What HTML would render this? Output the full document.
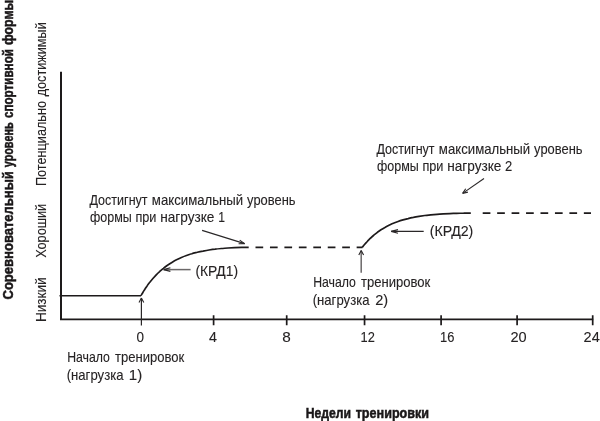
<!DOCTYPE html>
<html lang="ru">
<head>
<meta charset="utf-8">
<title>Недели тренировки</title>
<style>
html,body{margin:0;padding:0;background:#fff;}
svg{display:block;}
text{font-family:"Liberation Sans",sans-serif;font-size:14.3px;fill:#262324;stroke:#262324;stroke-width:0.1px;}
text.b{font-weight:bold;fill:#1a1718;stroke:#1a1718;stroke-width:0.5px;}
path{fill:none;stroke:#1d1a1b;}
.ax{stroke-width:1.7;}
.cv{stroke-width:1.7;}
.ds{stroke-width:1.7;stroke-dasharray:7.7 6.75;}
.ar{stroke-width:1.1;stroke:#2a2728;}
</style>
</head>
<body>
<svg width="600" height="421" viewBox="0 0 600 421">
<rect width="600" height="421" fill="#fff" stroke="none"/>
<path class="ax" style="stroke-width:2" d="M61,71.8 V319.3"/>
<path class="ax" style="stroke-width:1.7" d="M60,319.3 H593.2"/>
<path class="ax" d="M213.60,315.2 V325.3 M286.70,315.2 V325.3 M364.55,315.2 V325.3 M441.10,315.2 V325.3 M517.10,315.2 V325.3 M592.70,315.2 V325.3"/>
<path class="ax" style="stroke-width:1.6" d="M59.5,295.7 H141"/>
<path class="cv" d="M141.0,295.6 C141.1,295.4 141.3,295.0 141.7,294.4 C142.0,293.9 142.5,293.0 143.0,292.2 C143.6,291.3 144.2,290.3 144.9,289.2 C145.6,288.2 146.3,287.0 147.1,285.9 C147.9,284.7 148.8,283.5 149.8,282.3 C150.7,281.1 151.7,279.9 152.7,278.7 C153.8,277.5 154.9,276.3 156.0,275.1 C157.1,273.9 158.3,272.7 159.6,271.6 C160.8,270.5 162.1,269.3 163.4,268.3 C164.7,267.2 166.1,266.2 167.5,265.2 C169.0,264.2 170.4,263.3 171.9,262.4 C173.4,261.5 174.9,260.6 176.5,259.8 C178.1,259.0 179.7,258.2 181.4,257.5 C183.0,256.8 184.7,256.1 186.5,255.5 C188.2,254.9 190.0,254.3 191.8,253.8 C193.6,253.2 195.4,252.8 197.3,252.3 C199.2,251.8 201.1,251.4 203.0,251.1 C205.0,250.7 207.0,250.3 209.0,250.0 C211.0,249.7 213.0,249.4 215.1,249.2 C217.2,248.9 219.3,248.7 221.4,248.5 C223.6,248.3 225.8,248.2 228.0,248.0 C230.2,247.9 232.4,247.8 234.7,247.7 C237.0,247.6 239.3,247.5 241.6,247.4 C243.9,247.4 247.5,247.3 248.7,247.3"/>
<path class="cv" d="M362.3,247.3 C362.4,247.2 362.6,246.9 363.0,246.4 C363.3,246.0 363.8,245.4 364.3,244.8 C364.9,244.1 365.5,243.4 366.2,242.6 C366.9,241.9 367.7,241.0 368.5,240.2 C369.3,239.3 370.2,238.5 371.1,237.6 C372.1,236.7 373.1,235.8 374.1,234.9 C375.2,234.1 376.3,233.2 377.4,232.3 C378.6,231.5 379.8,230.6 381.0,229.8 C382.3,229.0 383.6,228.2 384.9,227.5 C386.2,226.7 387.6,226.0 389.0,225.3 C390.5,224.6 391.9,223.9 393.4,223.3 C394.9,222.7 396.5,222.1 398.1,221.5 C399.7,220.9 401.3,220.4 403.0,219.9 C404.7,219.4 406.4,219.0 408.1,218.6 C409.8,218.1 411.6,217.7 413.4,217.4 C415.3,217.0 417.1,216.7 419.0,216.4 C420.9,216.1 422.8,215.8 424.8,215.5 C426.8,215.3 428.7,215.1 430.8,214.9 C432.8,214.7 434.9,214.5 437.0,214.3 C439.1,214.1 441.2,214.0 443.3,213.9 C445.5,213.8 447.7,213.7 449.9,213.6 C452.2,213.5 454.4,213.4 456.7,213.3 C459.0,213.3 461.3,213.2 463.7,213.2 C466.0,213.1 469.6,213.1 470.8,213.1"/>
<path class="ds" d="M255.5,247.3 H362.5"/>
<path class="ds" d="M482.7,213.1 H591"/>
<path class="ar" style="stroke-width:1.2;" d="M141.4,325.4 L141.4,298.0"/><path class="ar" d="M143.8,302.6 L141.4,298.0 M139.0,302.6 L141.4,298.0"/>
<path class="ar" style="stroke-width:1.5;stroke:#6b6869" d="M361.2,272.8 L361.2,250.4"/><path class="ar" d="M363.6,255.0 L361.2,250.4 M358.8,255.0 L361.2,250.4"/>
<path class="ar" style="stroke-width:1.1;" d="M202.1,230.4 L244.6,243.6"/><path class="ar" d="M238.6,243.7 L244.6,243.6 M239.7,240.1 L244.6,243.6"/>
<path class="ar" style="stroke-width:1.1;" d="M484.0,178.5 L462.6,193.4"/><path class="ar" d="M465.7,188.8 L462.6,193.4 M467.9,192.1 L462.6,193.4"/>
<path class="ar" style="stroke-width:1.5;stroke:#6b6869" d="M190.6,269.6 L163.6,269.6"/><path class="ar" d="M170.4,267.8 L163.6,269.6 M170.4,271.4 L163.6,269.6"/>
<path class="ar" style="stroke-width:1.1;" d="M423.7,231.4 L391.2,231.4"/><path class="ar" d="M398.0,229.6 L391.2,231.4 M398.0,233.2 L391.2,231.4"/>
<text x="376.49" y="153.60" textLength="58.08" lengthAdjust="spacingAndGlyphs">Достигнут</text>
<text x="438.86" y="153.60" textLength="91.35" lengthAdjust="spacingAndGlyphs">максимальный</text>
<text x="534.08" y="153.60" textLength="48.41" lengthAdjust="spacingAndGlyphs">уровень</text>
<text x="376.94" y="170.50" textLength="41.78" lengthAdjust="spacingAndGlyphs">формы</text>
<text x="422.39" y="170.50" textLength="21.06" lengthAdjust="spacingAndGlyphs">при</text>
<text x="447.13" y="170.50" textLength="54.28" lengthAdjust="spacingAndGlyphs">нагрузке</text>
<text x="505.01" y="170.50" textLength="7.22" lengthAdjust="spacingAndGlyphs">2</text>
<text x="89.49" y="204.60" textLength="58.08" lengthAdjust="spacingAndGlyphs">Достигнут</text>
<text x="151.86" y="204.60" textLength="91.35" lengthAdjust="spacingAndGlyphs">максимальный</text>
<text x="247.08" y="204.60" textLength="48.41" lengthAdjust="spacingAndGlyphs">уровень</text>
<text x="89.94" y="221.50" textLength="41.78" lengthAdjust="spacingAndGlyphs">формы</text>
<text x="135.39" y="221.50" textLength="21.06" lengthAdjust="spacingAndGlyphs">при</text>
<text x="160.13" y="221.50" textLength="54.28" lengthAdjust="spacingAndGlyphs">нагрузке</text>
<text x="218.33" y="221.50" textLength="6.76" lengthAdjust="spacingAndGlyphs">1</text>
<text x="313.21" y="286.90" textLength="42.75" lengthAdjust="spacingAndGlyphs">Начало</text>
<text x="360.97" y="286.90" textLength="69.27" lengthAdjust="spacingAndGlyphs">тренировок</text>
<text x="312.68" y="305.40" textLength="56.86" lengthAdjust="spacingAndGlyphs">(нагрузка</text>
<text x="375.22" y="305.40" textLength="12.94" lengthAdjust="spacingAndGlyphs">2)</text>
<text x="67.21" y="361.90" textLength="42.75" lengthAdjust="spacingAndGlyphs">Начало</text>
<text x="114.97" y="361.90" textLength="69.27" lengthAdjust="spacingAndGlyphs">тренировок</text>
<text x="66.68" y="380.40" textLength="56.86" lengthAdjust="spacingAndGlyphs">(нагрузка</text>
<text x="128.79" y="380.40" textLength="13.40" lengthAdjust="spacingAndGlyphs">1)</text>
<text x="429.72" y="235.75" textLength="43.60" lengthAdjust="spacingAndGlyphs">(КРД2)</text>
<text x="195.38" y="275.50" textLength="42.71" lengthAdjust="spacingAndGlyphs">(КРД1)</text>
<text x="136.62" y="342.30" textLength="7.51" lengthAdjust="spacingAndGlyphs">0</text>
<text x="208.92" y="342.30" textLength="7.91" lengthAdjust="spacingAndGlyphs">4</text>
<text x="282.32" y="342.30" textLength="8.52" lengthAdjust="spacingAndGlyphs">8</text>
<text x="360.57" y="342.30" textLength="14.28" lengthAdjust="spacingAndGlyphs">12</text>
<text x="439.96" y="342.30" textLength="14.37" lengthAdjust="spacingAndGlyphs">16</text>
<text x="510.42" y="342.30" textLength="16.18" lengthAdjust="spacingAndGlyphs">20</text>
<text x="583.62" y="342.30" textLength="16.15" lengthAdjust="spacingAndGlyphs">24</text>
<text class="b" x="305.63" y="417.60" textLength="45.40" lengthAdjust="spacingAndGlyphs">Недели</text>
<text class="b" x="355.66" y="417.60" textLength="73.41" lengthAdjust="spacingAndGlyphs">тренировки</text>
<text class="b" transform="translate(12.70 299.48) rotate(-90)" textLength="128.30" lengthAdjust="spacingAndGlyphs">Соревновательный</text>
<text class="b" transform="translate(12.70 167.20) rotate(-90)" textLength="44.77" lengthAdjust="spacingAndGlyphs">уровень</text>
<text class="b" transform="translate(12.70 118.02) rotate(-90)" textLength="68.93" lengthAdjust="spacingAndGlyphs">спортивной</text>
<text class="b" transform="translate(12.70 45.05) rotate(-90)" textLength="45.16" lengthAdjust="spacingAndGlyphs">формы</text>
<text transform="translate(46.00 186.02) rotate(-90)" textLength="85.01" lengthAdjust="spacingAndGlyphs">Потенциально</text>
<text transform="translate(46.00 96.31) rotate(-90)" textLength="74.03" lengthAdjust="spacingAndGlyphs">достижимый</text>
<text transform="translate(46.00 257.84) rotate(-90)" textLength="54.08" lengthAdjust="spacingAndGlyphs">Хороший</text>
<text transform="translate(46.00 322.09) rotate(-90)" textLength="44.76" lengthAdjust="spacingAndGlyphs">Низкий</text>
</svg>
</body>
</html>
